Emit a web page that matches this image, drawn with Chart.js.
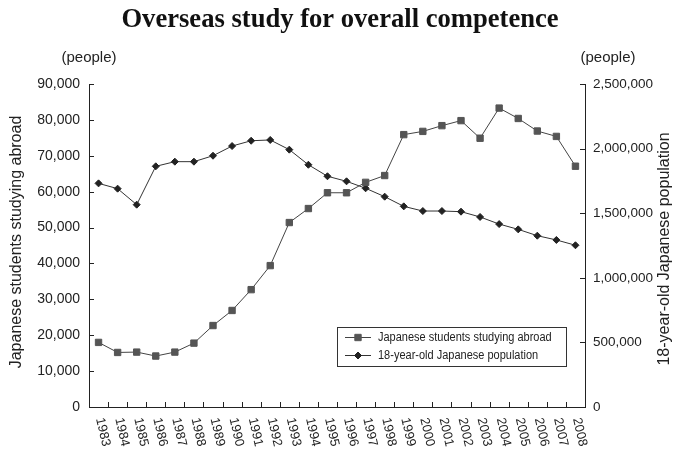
<!DOCTYPE html>
<html lang="en">
  <head>
    <meta charset="UTF-8" />
    <script src="https://cdn.jsdelivr.net/npm/chart.js"></script>
    <title>Overseas study for overall competence</title>
    <style>
      body {
        margin: 0;
        background: #fff;
      }
      #wrap {
        width: 680px;
        height: 449px;
      }
    </style>
  </head>
  <body>
    <div id="wrap">
      <canvas id="chart" width="680" height="449"></canvas>
    </div>
    <script>
      // data
      const years = ['1983', '1984', '1985', '1986', '1987', '1988', '1989', '1990', '1991', '1992', '1993', '1994', '1995',
        '1996', '1997', '1998', '1999', '2000', '2001', '2002', '2003', '2004', '2005', '2006', '2007', '2008'];
      const students = [18000, 15200, 15300, 14200, 15300, 17800, 22700, 26900, 32700, 39400, 51400, 55300, 59700,
        59700, 62600, 64500, 75900, 76800, 78400, 79800, 74900, 83300, 80400, 76900, 75400, 67100];
      const population = [1731000, 1690000, 1566000, 1863000, 1899000, 1899000, 1945000, 2020000, 2061000, 2067000, 1992000, 1875000, 1786000,
        1747000, 1693000, 1628000, 1553000, 1517000, 1517000, 1512000, 1471000, 1416000, 1375000, 1326000, 1293000, 1252000];
      const leftTicks = [0, 10000, 20000, 30000, 40000, 50000, 60000, 70000, 80000, 90000];
      const rightTicks = [0, 500000, 1000000, 1500000, 2000000, 2500000];
      const seriesNames = ['Japanese students studying abroad', '18-year-old Japanese population'];

      const ink = '#222';
      const sans = "'Liberation Sans', Arial, sans-serif";

      const extras = {
        id: 'extras',
        afterDraw(chart) {
          const ctx = chart.ctx;
          const xs = chart.scales.x, yl = chart.scales.y, yr = chart.scales.y1;
          const area = chart.chartArea;
          ctx.save();
          ctx.strokeStyle = ink;
          ctx.lineWidth = 1;

          // inward tick marks
          ctx.beginPath();
          leftTicks.forEach(v => {
            const y = Math.round(yl.getPixelForValue(v)) + 0.5;
            ctx.moveTo(area.left, y);
            ctx.lineTo(area.left + 5, y);
          });
          rightTicks.forEach(v => {
            const y = Math.round(yr.getPixelForValue(v)) + 0.5;
            ctx.moveTo(area.right, y);
            ctx.lineTo(area.right - 5, y);
          });
          const step = xs.getPixelForValue(1) - xs.getPixelForValue(0);
          for (let i = 0; i <= years.length; i++) {
            const x = Math.round(xs.getPixelForValue(i) - step / 2) + 0.5;
            ctx.moveTo(x, area.bottom);
            ctx.lineTo(x, area.bottom - 5);
          }
          ctx.stroke();

          // rotated year labels
          ctx.fillStyle = ink;
          ctx.font = '13px ' + sans;
          ctx.textAlign = 'left';
          ctx.textBaseline = 'middle';
          years.forEach((yr, i) => {
            const x = xs.getPixelForValue(i);
            ctx.save();
            ctx.translate(x + 1, 418);
            ctx.rotate(77 * Math.PI / 180);
            ctx.fillText(yr, 0, 0);
            ctx.restore();
          });

          // unit labels
          ctx.font = '15px ' + sans;
          ctx.textAlign = 'center';
          ctx.fillText('(people)', 89, 58);
          ctx.fillText('(people)', 608, 58);

          // axis titles
          ctx.font = '16px ' + sans;
          ctx.save();
          ctx.translate(17, 242);
          ctx.rotate(-Math.PI / 2);
          ctx.fillText('Japanese students studying abroad', 0, 0);
          ctx.restore();
          ctx.save();
          ctx.translate(665, 249);
          ctx.rotate(-Math.PI / 2);
          ctx.fillText('18-year-old Japanese population', 0, 0);
          ctx.restore();

          // legend box (narrow text like the original condensed face)
          ctx.strokeStyle = '#333';
          ctx.strokeRect(337.5, 327.5, 229, 39);
          ctx.font = '12.5px ' + sans;
          ctx.textAlign = 'left';
          chart.data.datasets.forEach((ds, i) => {
            const y = 337 + i * 18 + 0.5;
            ctx.strokeStyle = ds.borderColor;
            ctx.beginPath();
            ctx.moveTo(345, y);
            ctx.lineTo(371, y);
            ctx.stroke();
            ctx.fillStyle = ds.pointBackgroundColor;
            ctx.strokeStyle = ds.pointBorderColor;
            Chart.helpers.drawPoint(ctx, {
              pointStyle: ds.pointStyle,
              radius: ds.pointRadius,
              borderWidth: 1,
              rotation: 0
            }, 358, y);
            ctx.fillStyle = ink;
            ctx.save();
            ctx.translate(378, y);
            ctx.scale(0.88, 1);
            ctx.fillText(seriesNames[i], 0, 0);
            ctx.restore();
          });
          ctx.restore();
        }
      };

      new Chart(document.getElementById('chart'), {
        type: 'line',
        data: {
          labels: years,
          datasets: [
            {
              label: seriesNames[0],
              data: students,
              yAxisID: 'y',
              borderColor: '#444',
              borderWidth: 1,
              pointStyle: 'rect',
              pointRadius: 4.5,
              pointBackgroundColor: '#555',
              pointBorderColor: '#555',
              pointBorderWidth: 1,
              tension: 0,
            },
            {
              label: seriesNames[1],
              data: population,
              yAxisID: 'y1',
              borderColor: '#333',
              borderWidth: 1,
              pointStyle: 'rectRot',
              pointRadius: 3.5,
              pointBackgroundColor: '#222',
              pointBorderColor: '#222',
              pointBorderWidth: 1,
              tension: 0,
            },
          ],
        },
        options: {
          responsive: false,
          animation: false,
          devicePixelRatio: 1,
          layout: {
            padding: 0,
          },
          plugins: {
            legend: {
              display: false,
            },
            tooltip: {
              enabled: false,
            },
            title: {
              display: true,
              text: 'Overseas study for overall competence',
              color: '#111',
              font: {
                family: "'Liberation Serif', 'Times New Roman', serif",
                size: 26.6,
                weight: 'bold',
              },
              padding: {
                top: 4.5,
                bottom: 47.6,
              },
            },
          },
          scales: {
            x: {
              offset: true,
              grid: {
                display: false,
                drawTicks: false,
              },
              border: {
                display: true,
                color: ink,
              },
              ticks: {
                display: false,
              },
              afterFit(scale) {
                scale.height = 42;
              },
            },
            y: {
              position: 'left',
              min: 0,
              max: 90000,
              grid: {
                display: false,
                drawTicks: false,
              },
              border: {
                display: true,
                color: ink,
              },
              ticks: {
                stepSize: 10000,
                padding: 9,
                color: ink,
                font: {
                  family: sans,
                  size: 14,
                },
                callback: v => v.toLocaleString('en-US'),
              },
              afterFit(scale) {
                scale.width = 89;
              },
            },
            y1: {
              position: 'right',
              min: 0,
              max: 2500000,
              grid: {
                display: false,
                drawTicks: false,
              },
              border: {
                display: true,
                color: ink,
              },
              ticks: {
                stepSize: 500000,
                padding: 8,
                color: ink,
                font: {
                  family: sans,
                  size: 13.5,
                },
                callback: v => v.toLocaleString('en-US'),
              },
              afterFit(scale) {
                scale.width = 95;
              },
            },
          },
        },
        plugins: [extras],
      });
    </script>
  </body>
</html>
